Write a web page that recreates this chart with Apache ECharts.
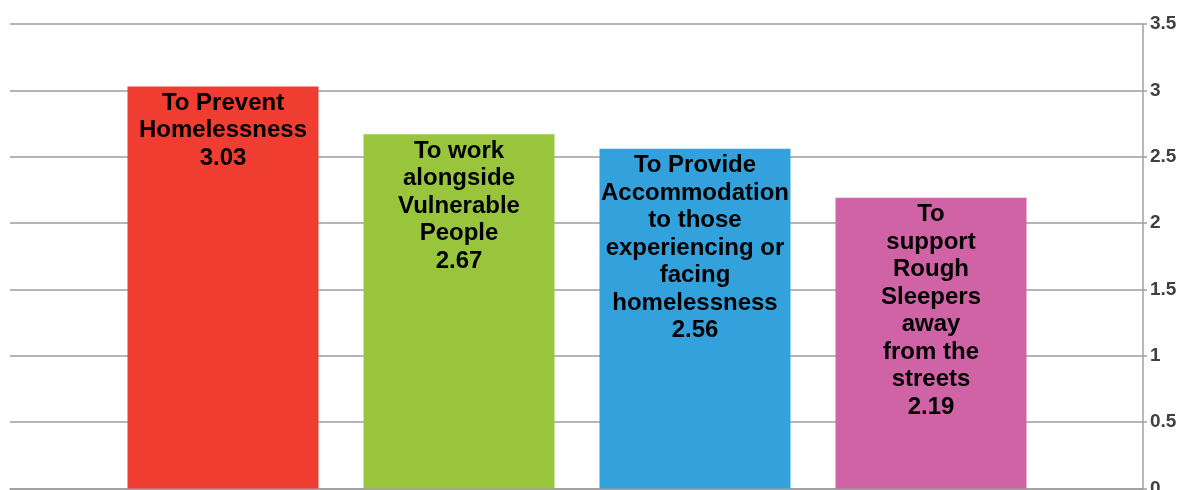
<!DOCTYPE html>
<html>
<head>
<meta charset="utf-8">
<script src="https://cdn.jsdelivr.net/npm/echarts@6/dist/echarts.min.js"></script>
<style>html,body{margin:0;padding:0;background:#fff}#c{width:1184px;height:490px}</style>
</head>
<body>
<div id="c"></div>
<script>
var categories = [
  "To Prevent\nHomelessness",
  "To work\nalongside\nVulnerable\nPeople",
  "To Provide\nAccommodation\nto those\nexperiencing or\nfacing\nhomelessness",
  "To\nsupport\nRough\nSleepers\naway\nfrom the\nstreets"
];
var values = [3.03, 2.67, 2.56, 2.19];
var colors = ["#EF3D32", "#99C53C", "#33A2DC", "#D062A6"];
var yTicks = {min: 0, max: 3.5, interval: 0.5};

var chart = echarts.init(document.getElementById('c'));
chart.setOption({
  animation: false,
  grid: [
    {left: 10, right: 41, top: 24, bottom: 1.5, outerBoundsMode: 'none', containLabel: false},
    {left: 105, width: 944, top: 24, bottom: 1.5, outerBoundsMode: 'none', containLabel: false}
  ],
  xAxis: [
    {type: 'category', gridIndex: 0, data: [''], axisLine: {show: true, lineStyle: {color: '#9c9c9c', width: 1.5}}, axisTick: {show: false}, axisLabel: {show: false}},
    {type: 'category', gridIndex: 1, data: categories, axisLine: {show: false}, axisTick: {show: false}, axisLabel: {show: false}}
  ],
  yAxis: [
    {type: 'value', gridIndex: 0, position: 'right', min: yTicks.min, max: yTicks.max, interval: yTicks.interval,
     axisLine: {show: true, lineStyle: {color: '#a0a0a0', width: 1.5}},
     axisTick: {show: true, length: 4, lineStyle: {color: '#a0a0a0', width: 1.5}},
     splitLine: {show: true, lineStyle: {color: '#9c9c9c', width: 1.5}},
     axisLabel: {color: '#404040', fontSize: 19, fontWeight: 'bold', fontFamily: 'Liberation Sans, Arial', margin: 7}},
    {type: 'value', gridIndex: 1, min: yTicks.min, max: yTicks.max, interval: yTicks.interval, show: false, splitLine: {show: false}}
  ],
  series: [{
    type: 'bar',
    xAxisIndex: 1, yAxisIndex: 1,
    barWidth: 191,
    data: values.map(function (v, i) { return {value: v, itemStyle: {color: colors[i]}}; }),
    label: {
      show: true,
      position: 'insideTop',
      distance: 3,
      color: '#000',
      fontSize: 24,
      fontWeight: 'bold',
      fontFamily: 'Liberation Sans, Arial',
      lineHeight: 27.5,
      align: 'center',
      formatter: function (p) { return categories[p.dataIndex] + '\n' + p.value.toFixed(2); }
    }
  }]
});
</script>
</body>
</html>
